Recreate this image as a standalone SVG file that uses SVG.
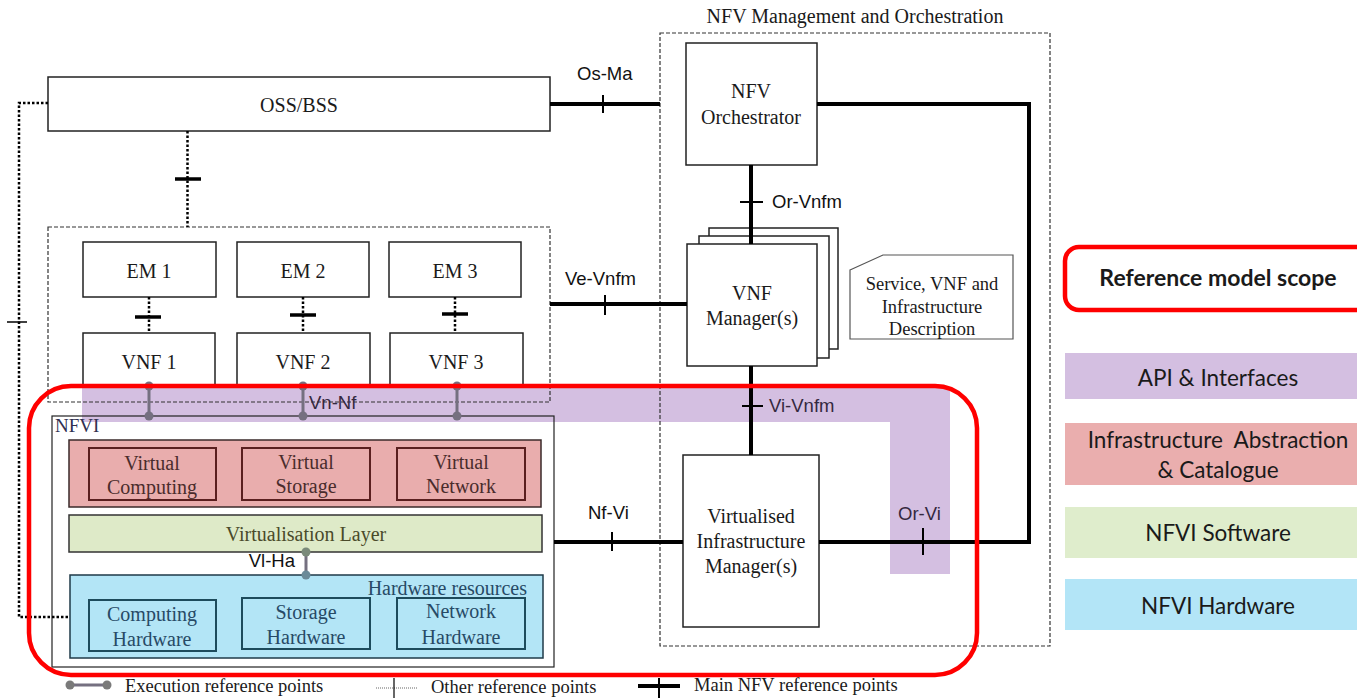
<svg xmlns="http://www.w3.org/2000/svg" width="1357" height="698" viewBox="0 0 1357 698">
<style>
.box{fill:#fff;stroke:#222;stroke-width:1.5}
.dash{fill:none;stroke:#333;stroke-width:1.2;stroke-dasharray:4 2}
.serif{font-family:"Liberation Serif","Times New Roman",serif;font-size:20px;fill:#1a1a1a;text-anchor:middle}
.sans{font-family:"Liberation Sans",Arial,sans-serif;font-size:18.5px;fill:#111}
.band{fill:#34283f}
.main{stroke:#000;stroke-width:4;fill:none}
.tick{stroke:#000;stroke-width:2}
.other{stroke:#000;stroke-width:2.5;stroke-dasharray:2.5 2;fill:none}
.otick{stroke:#000;stroke-width:3.5}
.exec{stroke:#757080;stroke-width:3}
.ball{fill:#757080}
.leg{font-family:Lato,"Open Sans",sans-serif;font-size:22.5px;fill:#1a1a1a;text-anchor:middle}
.vbox{fill:none;stroke:#5a1f1f;stroke-width:2}
.vtxt{fill:#4a2c2c}
.hbox{fill:none;stroke:#1d4b5c;stroke-width:2}
.htxt{fill:#274a66}
.lgs{font-family:"Liberation Serif","Times New Roman",serif;font-size:18.5px;fill:#1a1a1a}
</style>
<rect width="1357" height="698" fill="#fff"/>

<g id="api-band">
<path d="M82,388 H950 V574 H890 V422 H82 Z" fill="#d4bfe1"/>
</g>

<g id="mano">
<rect x="660" y="33" width="390" height="613" class="dash" stroke-dasharray="3 2"/>
<text x="855" y="23" class="serif">NFV Management and Orchestration</text>
</g>

<g id="vnf-domain">
<rect x="48" y="227" width="502" height="175" class="dash"/>
</g>

<g id="oss-bss">
<rect x="48" y="77" width="502" height="54" class="box"/>
<text x="299" y="112" class="serif">OSS/BSS</text>
</g>

<g id="em1"><rect x="83" y="242" width="133" height="55" class="box"/><text x="149" y="278" class="serif">EM 1</text></g>
<g id="em2"><rect x="237" y="242" width="132" height="55" class="box"/><text x="303" y="278" class="serif">EM 2</text></g>
<g id="em3"><rect x="389" y="242" width="132" height="55" class="box"/><text x="455" y="278" class="serif">EM 3</text></g>
<g id="vnf1"><rect x="83" y="333" width="132" height="53" class="box"/><text x="149" y="369" class="serif">VNF 1</text></g>
<g id="vnf2"><rect x="237" y="333" width="133" height="53" class="box"/><text x="303" y="369" class="serif">VNF 2</text></g>
<g id="vnf3"><rect x="390" y="333" width="133" height="53" class="box"/><text x="456" y="369" class="serif">VNF 3</text></g>

<g id="nfvi">
<rect x="52" y="416" width="502" height="251" fill="none" stroke="#222" stroke-width="1.2"/>
<text x="55" y="432" class="serif" style="text-anchor:start;font-size:19px;fill:#303050">NFVI</text>
</g>

<g id="virtual-resources">
<rect x="69" y="440" width="472" height="67" fill="#e9adad" stroke="#3a2a2a" stroke-width="1.5"/>
</g>
<g id="virtual-computing"><rect x="89" y="448" width="127" height="52" class="vbox"/><text x="152" y="470" class="serif vtxt">Virtual</text><text x="152" y="494" class="serif vtxt">Computing</text></g>
<g id="virtual-storage"><rect x="242" y="448" width="128" height="52" class="vbox"/><text x="306" y="469" class="serif vtxt">Virtual</text><text x="306" y="493" class="serif vtxt">Storage</text></g>
<g id="virtual-network"><rect x="397" y="448" width="128" height="52" class="vbox"/><text x="461" y="469" class="serif vtxt">Virtual</text><text x="461" y="493" class="serif vtxt">Network</text></g>

<g id="virtualisation-layer">
<rect x="69" y="515" width="473" height="37" fill="#deeac8" stroke="#333" stroke-width="1.5"/>
<text x="306" y="541" class="serif" style="fill:#4a4a2a">Virtualisation Layer</text>
</g>

<g id="hardware-resources">
<rect x="70" y="575" width="473" height="83" fill="#b3e5f6" stroke="#1f3a48" stroke-width="1.5"/>
<text x="527" y="595" class="serif htxt" style="text-anchor:end">Hardware resources</text>
</g>
<g id="computing-hardware"><rect x="89" y="600" width="127" height="51" class="hbox"/><text x="152" y="621" class="serif htxt">Computing</text><text x="152" y="646" class="serif htxt">Hardware</text></g>
<g id="storage-hardware"><rect x="242" y="598" width="128" height="51" class="hbox"/><text x="306" y="619" class="serif htxt">Storage</text><text x="306" y="644" class="serif htxt">Hardware</text></g>
<g id="network-hardware"><rect x="397" y="598" width="128" height="51" class="hbox"/><text x="461" y="618" class="serif htxt">Network</text><text x="461" y="644" class="serif htxt">Hardware</text></g>

<g id="nfv-orchestrator">
<rect x="686" y="43" width="131" height="122" class="box"/>
<text x="751" y="98" class="serif">NFV</text>
<text x="751" y="124" class="serif">Orchestrator</text>
</g>

<g id="vnf-manager">
<rect x="709" y="228" width="129" height="121" class="box"/>
<rect x="699" y="236" width="130" height="122" class="box"/>
<rect x="687" y="244" width="130" height="122" class="box"/>
<text x="752" y="300" class="serif">VNF</text>
<text x="752" y="325" class="serif">Manager(s)</text>
</g>

<g id="descriptions">
<path d="M850,270 L883,255 L1013,255 L1013,339 L850,339 Z" fill="#fff" stroke="#555" stroke-width="1.2"/>
<text x="932" y="290" class="serif" style="font-size:18.5px">Service, VNF and</text>
<text x="932" y="313" class="serif" style="font-size:18.5px">Infrastructure</text>
<text x="932" y="335" class="serif" style="font-size:18.5px">Description</text>
</g>

<g id="vim">
<rect x="683" y="455" width="136" height="172" class="box"/>
<text x="751" y="523" class="serif">Virtualised</text>
<text x="751" y="548" class="serif">Infrastructure</text>
<text x="751" y="573" class="serif">Manager(s)</text>
</g>

<g id="connectors">
<line x1="550" y1="104" x2="660" y2="104" class="main"/>
<line x1="603" y1="95" x2="603" y2="113" class="tick"/>
<text x="577" y="80" class="sans">Os-Ma</text>

<polyline points="817,104 1029,104 1029,542 819,542" class="main"/>
<line x1="923" y1="528" x2="923" y2="555" class="tick" stroke="#2a1d38"/>
<text x="898" y="520" class="sans band">Or-Vi</text>

<line x1="751" y1="165" x2="751" y2="244" class="main"/>
<line x1="740" y1="202" x2="763" y2="202" class="tick"/>
<text x="772" y="208" class="sans">Or-Vnfm</text>

<line x1="550" y1="304" x2="687" y2="304" class="main"/>
<line x1="605" y1="295" x2="605" y2="315" class="tick"/>
<text x="565" y="285" class="sans">Ve-Vnfm</text>

<line x1="751" y1="366" x2="751" y2="455" class="main"/>
<line x1="742" y1="406" x2="763" y2="406" class="tick"/>
<text x="769" y="412" class="sans band">Vi-Vnfm</text>

<line x1="554" y1="542" x2="683" y2="542" class="main"/>
<line x1="612" y1="532" x2="612" y2="551" class="tick"/>
<text x="588" y="519" class="sans">Nf-Vi</text>

<line x1="187.5" y1="131" x2="187.5" y2="227" class="other" stroke-width="2"/>
<line x1="175" y1="179" x2="201" y2="179" class="otick"/>

<line x1="149" y1="297" x2="149" y2="333" class="other"/>
<line x1="135" y1="317" x2="161" y2="317" class="otick"/>
<line x1="303" y1="297" x2="303" y2="333" class="other"/>
<line x1="290" y1="315" x2="316" y2="315" class="otick"/>
<line x1="455" y1="297" x2="455" y2="333" class="other"/>
<line x1="442" y1="314" x2="468" y2="314" class="otick"/>

<polyline points="48,103 19,103 19,617 70,617" class="other" stroke-width="4" stroke-dasharray="3 2"/>
<line x1="7" y1="322" x2="27" y2="322" stroke="#000" stroke-width="1.5"/>

<line x1="149" y1="386" x2="149" y2="416" class="exec"/>
<circle cx="149" cy="386" r="4.5" class="ball"/><circle cx="149" cy="416" r="4.5" class="ball"/>
<line x1="303" y1="386" x2="303" y2="416" class="exec"/>
<circle cx="303" cy="386" r="4.5" class="ball"/><circle cx="303" cy="416" r="4.5" class="ball"/>
<line x1="457" y1="386" x2="457" y2="416" class="exec"/>
<circle cx="457" cy="386" r="4.5" class="ball"/><circle cx="457" cy="416" r="4.5" class="ball"/>
<text x="309" y="409" class="sans band">Vn-Nf</text>

<line x1="306" y1="552" x2="306" y2="575" class="exec" stroke="#7a7a7a"/>
<circle cx="306" cy="552" r="4.5" fill="#7a8a7a"/><circle cx="306" cy="575" r="4.5" fill="#6a8a98"/>
<text x="295" y="567" class="sans" style="text-anchor:end">Vl-Ha</text>
</g>

<g id="scope">
<rect x="29" y="386" width="948" height="289" rx="42" fill="none" stroke="#ff0000" stroke-width="4.5"/>
</g>

<g id="legend-bottom">
<line x1="70" y1="685" x2="107" y2="685" class="exec" stroke="#7a7a7a"/>
<circle cx="70" cy="685" r="4.5" fill="#7a7a7a"/><circle cx="107" cy="685" r="4.5" fill="#7a7a7a"/>
<text x="125" y="692" class="lgs">Execution reference points</text>
<line x1="376" y1="688" x2="418" y2="688" stroke="#666" stroke-width="1" stroke-dasharray="1 1"/>
<line x1="394" y1="678" x2="394" y2="698" stroke="#000" stroke-width="1.2"/>
<text x="431" y="693" class="lgs">Other reference points</text>
<line x1="638" y1="686" x2="680" y2="686" class="main" stroke-width="4.5"/>
<line x1="659" y1="678" x2="659" y2="698" class="tick"/>
<text x="694" y="691" class="lgs">Main NFV reference points</text>
</g>

<g id="legend-right">
<rect x="1065" y="247" width="310" height="63" rx="14" fill="#fff" stroke="#ff0000" stroke-width="4.5"/>
<text x="1218" y="286" class="leg" style="font-weight:bold;font-size:23px">Reference model scope</text>
<rect x="1065" y="353" width="292" height="46" fill="#d4bfe1"/>
<text x="1218" y="386" class="leg">API &amp; Interfaces</text>
<rect x="1065" y="423" width="292" height="62" fill="#eaaeae"/>
<text x="1218" y="448" class="leg" xml:space="preserve">Infrastructure  Abstraction</text>
<text x="1218" y="478" class="leg">&amp; Catalogue</text>
<rect x="1065" y="507" width="292" height="51" fill="#dfedcc"/>
<text x="1218" y="541" class="leg">NFVI Software</text>
<rect x="1065" y="579" width="292" height="51" fill="#b3e5f7"/>
<text x="1218" y="614" class="leg">NFVI Hardware</text>
</g>
</svg>
